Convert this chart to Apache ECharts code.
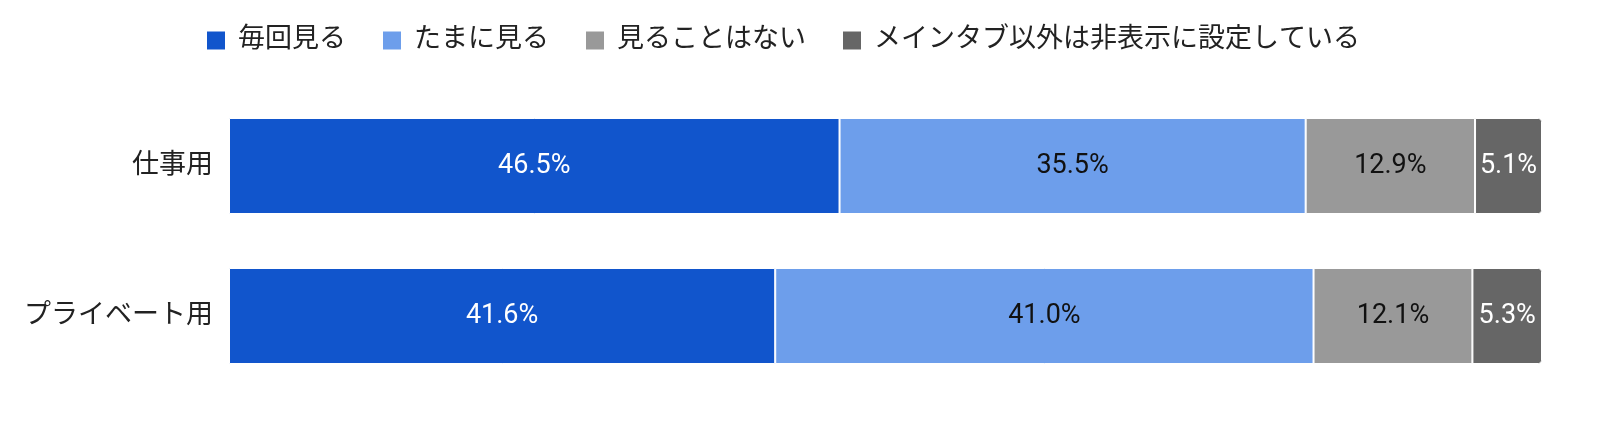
<!DOCTYPE html>
<html lang="ja" style="height: 100%">
<head>
    <meta charset="utf-8">
</head>
<body style="height: 100%; margin: 0">
<div id="container" style="width: 1600px; height: 448px"></div>

<script type="text/javascript" src="https://cdn.jsdelivr.net/npm/echarts@6/dist/echarts.min.js"></script>
<script type="text/javascript">
    // データ
    var categories = ['仕事用', 'プライベート用'];
    var seriesNames = ['毎回見る', 'たまに見る', '見ることはない', 'メインタブ以外は非表示に設定している'];
    var maikai = [46.5, 41.6];
    var tamani = [35.5, 41.0];
    var minai = [12.9, 12.1];
    var hihyoji = [5.1, 5.3];

    var colors = ['#1155cc', '#6d9eeb', '#999999', '#666666'];
    var labelColors = ['#ffffff', '#111111', '#111111', '#ffffff'];
    var values = [maikai, tamani, minai, hihyoji];

    var font = 'Roboto, "Noto Sans CJK JP", sans-serif';

    var dom = document.getElementById('container');
    var myChart = echarts.init(dom, null, { renderer: 'canvas' });

    var series = values.map(function (vals, i) {
      return {
        name: seriesNames[i],
        type: 'bar',
        stack: 'total',
        barWidth: '64%',
        data: vals,
        itemStyle: {
          color: colors[i],
          borderColor: '#ffffff',
          borderWidth: 1,
          borderRadius: i === 3 ? [0, 3, 3, 0] : 0
        },
        label: {
          show: true,
          position: 'inside',
          color: labelColors[i],
          fontFamily: font,
          fontSize: 27,
          formatter: function (p) {
            return p.value.toFixed(1) + '%';
          }
        }
      };
    });

    var option = {
      animation: false,
      color: colors,
      legend: {
        top: 22,
        left: 200,
        itemWidth: 20,
        itemHeight: 20,
        itemGap: 35,
        icon: 'rect',
        textStyle: {
          fontFamily: font,
          fontSize: 27,
          color: '#222',
          padding: [0, 0, 0, 7]
        },
        data: seriesNames
      },
      grid: { left: 229, right: 58, top: 91, bottom: 57 },
      xAxis: {
        type: 'value',
        min: 0,
        max: 100,
        show: false
      },
      yAxis: {
        type: 'category',
        inverse: true,
        data: categories,
        axisLine: { show: false },
        axisTick: { show: false },
        axisLabel: {
          margin: 16,
          fontFamily: font,
          fontSize: 27,
          color: '#222'
        }
      },
      series: series
    };
    myChart.setOption(option);

    window.addEventListener('resize', myChart.resize);
</script>
</body>
</html>
